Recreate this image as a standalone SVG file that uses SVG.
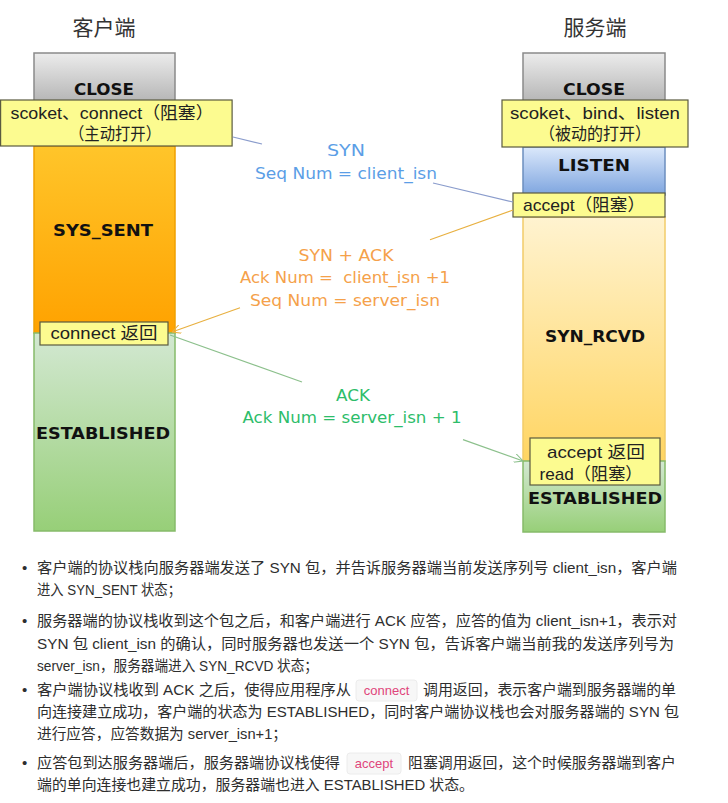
<svg xmlns="http://www.w3.org/2000/svg" width="728" height="803" viewBox="0 0 728 803">
<defs>
<linearGradient id="gGray" x1="0" y1="0" x2="0" y2="1"><stop offset="0" stop-color="#ececec"/><stop offset="1" stop-color="#b4b4b4"/></linearGradient>
<linearGradient id="gOrange" x1="0" y1="0" x2="0" y2="1"><stop offset="0" stop-color="#ffc52a"/><stop offset="1" stop-color="#ffa200"/></linearGradient>
<linearGradient id="gGreen" x1="0" y1="0" x2="0" y2="1"><stop offset="0" stop-color="#d3e8d2"/><stop offset="1" stop-color="#97cf78"/></linearGradient>
<linearGradient id="gBlue" x1="0" y1="0" x2="0" y2="1"><stop offset="0" stop-color="#dbe8fb"/><stop offset="1" stop-color="#7ea5df"/></linearGradient>
<linearGradient id="gLight" x1="0" y1="0" x2="0" y2="1"><stop offset="0" stop-color="#fff3d0"/><stop offset="1" stop-color="#ffd562"/></linearGradient>
<marker id="arO" viewBox="0 0 10 10" refX="10" refY="5" markerWidth="9" markerHeight="9" orient="auto" markerUnits="userSpaceOnUse"><path d="M0,0 L10,5 L0,10" fill="none" stroke="#e8b040" stroke-width="1.2"/></marker>
<marker id="arG" viewBox="0 0 10 10" refX="10" refY="5" markerWidth="9" markerHeight="9" orient="auto" markerUnits="userSpaceOnUse"><path d="M0,0 L10,5 L0,10" fill="none" stroke="#8cc08c" stroke-width="1.2"/></marker>
</defs>
<style>
.title{font-family:"Noto Sans CJK SC",sans-serif;font-size:21px;fill:#333;text-anchor:middle}
.state{font-family:"DejaVu Sans",sans-serif;font-weight:bold;font-size:16px;fill:#111;text-anchor:middle}
.lbl{fill:#fcfb90;stroke:#5a5a40;stroke-width:1.2}
.lt{font-family:"Liberation Sans","Noto Sans CJK SC",sans-serif;font-size:17px;fill:#222;text-anchor:middle}
.msg{font-family:"DejaVu Sans",sans-serif;font-size:16px;text-anchor:middle}
.blue{fill:#5b9ee6}.orange{fill:#f5a14a}.green{fill:#2dbd6a}
.body{font-family:"Liberation Sans","Noto Sans CJK SC",sans-serif;font-size:15px;fill:#2e2e2e}
.code{font-family:"Liberation Sans",sans-serif;font-size:13px;fill:#e0457b}
.cbox{fill:#f7f7f7;stroke:#ececec;stroke-width:1}
</style>
<rect width="728" height="803" fill="#ffffff"/>
<text class="title" x="104" y="35">客户端</text>
<text class="title" x="595" y="35">服务端</text>

<g id="client">
<rect x="34" y="53" width="141" height="50" fill="url(#gGray)" stroke="#8a8a8a" stroke-width="1.5"/>
<text class="state" x="104" y="95" textLength="60" lengthAdjust="spacingAndGlyphs">CLOSE</text>
<rect x="34" y="146" width="141" height="187" fill="url(#gOrange)" stroke="#f0a000" stroke-width="1.5"/>
<text class="state" x="103" y="236" textLength="100" lengthAdjust="spacingAndGlyphs">SYS_SENT</text>
<rect x="34" y="333" width="141" height="198" fill="url(#gGreen)" stroke="#86bb6a" stroke-width="1.5"/>
<text class="state" x="103" y="439" textLength="134" lengthAdjust="spacingAndGlyphs">ESTABLISHED</text>
</g>
<g id="client-label">
<rect class="lbl" x="0.6" y="100" width="231.5" height="46"/>
<text class="lt" x="112" y="119" textLength="203" lengthAdjust="spacingAndGlyphs">scoket、connect（阻塞）</text>
<text class="lt" x="115" y="140" textLength="92" lengthAdjust="spacingAndGlyphs">（主动打开）</text>
</g>
<g id="connect-return">
<rect class="lbl" x="40" y="322" width="128" height="23"/>
<text class="lt" x="104" y="339" textLength="107" lengthAdjust="spacingAndGlyphs">connect 返回</text>
</g>

<g id="server">
<rect x="523" y="53" width="142" height="50" fill="url(#gGray)" stroke="#8a8a8a" stroke-width="1.5"/>
<text class="state" x="594" y="95" textLength="62" lengthAdjust="spacingAndGlyphs">CLOSE</text>
<rect x="523" y="147" width="142" height="48" fill="url(#gBlue)" stroke="#6c8ebf" stroke-width="1.5"/>
<text class="state" x="594" y="171" textLength="72" lengthAdjust="spacingAndGlyphs">LISTEN</text>
<rect x="523" y="217" width="142" height="244" fill="url(#gLight)" stroke="#f2cc6a" stroke-width="1.5"/>
<text class="state" x="595" y="342" textLength="100" lengthAdjust="spacingAndGlyphs">SYN_RCVD</text>
<rect x="523" y="461" width="142" height="71" fill="url(#gGreen)" stroke="#86bb6a" stroke-width="1.5"/>
<text class="state" x="595" y="504" textLength="134" lengthAdjust="spacingAndGlyphs">ESTABLISHED</text>
</g>
<g id="server-label">
<rect class="lbl" x="502" y="100" width="186" height="47"/>
<text class="lt" x="595" y="119" textLength="170" lengthAdjust="spacingAndGlyphs">scoket、bind、listen</text>
<text class="lt" x="595" y="140" textLength="112" lengthAdjust="spacingAndGlyphs">（被动的打开）</text>
</g>
<g id="accept-block">
<rect class="lbl" x="513" y="193" width="152" height="24"/>
<text class="lt" x="584" y="211" textLength="122" lengthAdjust="spacingAndGlyphs">accept（阻塞）</text>
</g>
<g id="accept-return">
<rect class="lbl" x="530" y="438" width="130" height="47"/>
<text class="lt" x="596" y="458" textLength="98" lengthAdjust="spacingAndGlyphs">accept 返回</text>
<text class="lt" x="591" y="480" textLength="103" lengthAdjust="spacingAndGlyphs">read（阻塞）</text>
</g>

<g id="connectors" fill="none" stroke-width="1.2">
<line x1="233" y1="137" x2="262" y2="144" stroke="#8a9ccc"/>
<line x1="433" y1="183" x2="513" y2="202" stroke="#8a9ccc"/>
<line x1="513" y1="210" x2="430" y2="239.7" stroke="#e8b040"/>
<line x1="240" y1="307.7" x2="172" y2="332" stroke="#e8b040" marker-end="url(#arO)"/>
<line x1="170" y1="335" x2="302" y2="382" stroke="#8cc08c"/>
<line x1="463" y1="439.6" x2="523" y2="461" stroke="#8cc08c" marker-end="url(#arG)"/>
</g>
<g id="messages">
<text class="msg blue" x="346" y="156" textLength="38" lengthAdjust="spacingAndGlyphs">SYN</text>
<text class="msg blue" x="346" y="179" textLength="182" lengthAdjust="spacingAndGlyphs">Seq Num = client_isn</text>
<text class="msg orange" x="346" y="261" textLength="95" lengthAdjust="spacingAndGlyphs">SYN + ACK</text>
<text class="msg orange" x="345" y="283" textLength="210" lengthAdjust="spacingAndGlyphs" xml:space="preserve">Ack Num =  client_isn +1</text>
<text class="msg orange" x="345" y="306" textLength="190" lengthAdjust="spacingAndGlyphs">Seq Num = server_isn</text>
<text class="msg green" x="353" y="401" textLength="34" lengthAdjust="spacingAndGlyphs">ACK</text>
<text class="msg green" x="352" y="423" textLength="219" lengthAdjust="spacingAndGlyphs">Ack Num = server_isn + 1</text>
</g>

<g id="notes">
<text class="body" x="22" y="573">•</text>
<text class="body" x="37" y="573" textLength="640" lengthAdjust="spacingAndGlyphs">客户端的协议栈向服务器端发送了 SYN 包，并告诉服务器端当前发送序列号 client_isn，客户端</text>
<text class="body" x="37" y="595" textLength="144" lengthAdjust="spacingAndGlyphs">进入 SYN_SENT 状态；</text>
<text class="body" x="22" y="626">•</text>
<text class="body" x="37" y="626" textLength="640" lengthAdjust="spacingAndGlyphs">服务器端的协议栈收到这个包之后，和客户端进行 ACK 应答，应答的值为 client_isn+1，表示对</text>
<text class="body" x="37" y="649" textLength="637" lengthAdjust="spacingAndGlyphs">SYN 包 client_isn 的确认，同时服务器也发送一个 SYN 包，告诉客户端当前我的发送序列号为</text>
<text class="body" x="37" y="671" textLength="281" lengthAdjust="spacingAndGlyphs">server_isn，服务器端进入 SYN_RCVD 状态；</text>
<text class="body" x="22" y="695">•</text>
<text class="body" x="37" y="695" textLength="314" lengthAdjust="spacingAndGlyphs">客户端协议栈收到 ACK 之后，使得应用程序从</text>
<rect class="cbox" x="356" y="680" width="61" height="21" rx="3"/>
<text class="code" x="386.5" y="695" text-anchor="middle">connect</text>
<text class="body" x="423" y="695" textLength="253" lengthAdjust="spacingAndGlyphs">调用返回，表示客户端到服务器端的单</text>
<text class="body" x="37" y="717" textLength="642" lengthAdjust="spacingAndGlyphs">向连接建立成功，客户端的状态为 ESTABLISHED，同时客户端协议栈也会对服务器端的 SYN 包</text>
<text class="body" x="37" y="739" textLength="250" lengthAdjust="spacingAndGlyphs">进行应答，应答数据为 server_isn+1；</text>
<text class="body" x="22" y="768">•</text>
<text class="body" x="37" y="768" textLength="303" lengthAdjust="spacingAndGlyphs">应答包到达服务器端后，服务器端协议栈使得</text>
<rect class="cbox" x="347" y="753" width="54" height="21" rx="3"/>
<text class="code" x="374" y="768" text-anchor="middle">accept</text>
<text class="body" x="408" y="768" textLength="268" lengthAdjust="spacingAndGlyphs">阻塞调用返回，这个时候服务器端到客户</text>
<text class="body" x="37" y="790" textLength="437" lengthAdjust="spacingAndGlyphs">端的单向连接也建立成功，服务器端也进入 ESTABLISHED 状态。</text>
</g>
</svg>
